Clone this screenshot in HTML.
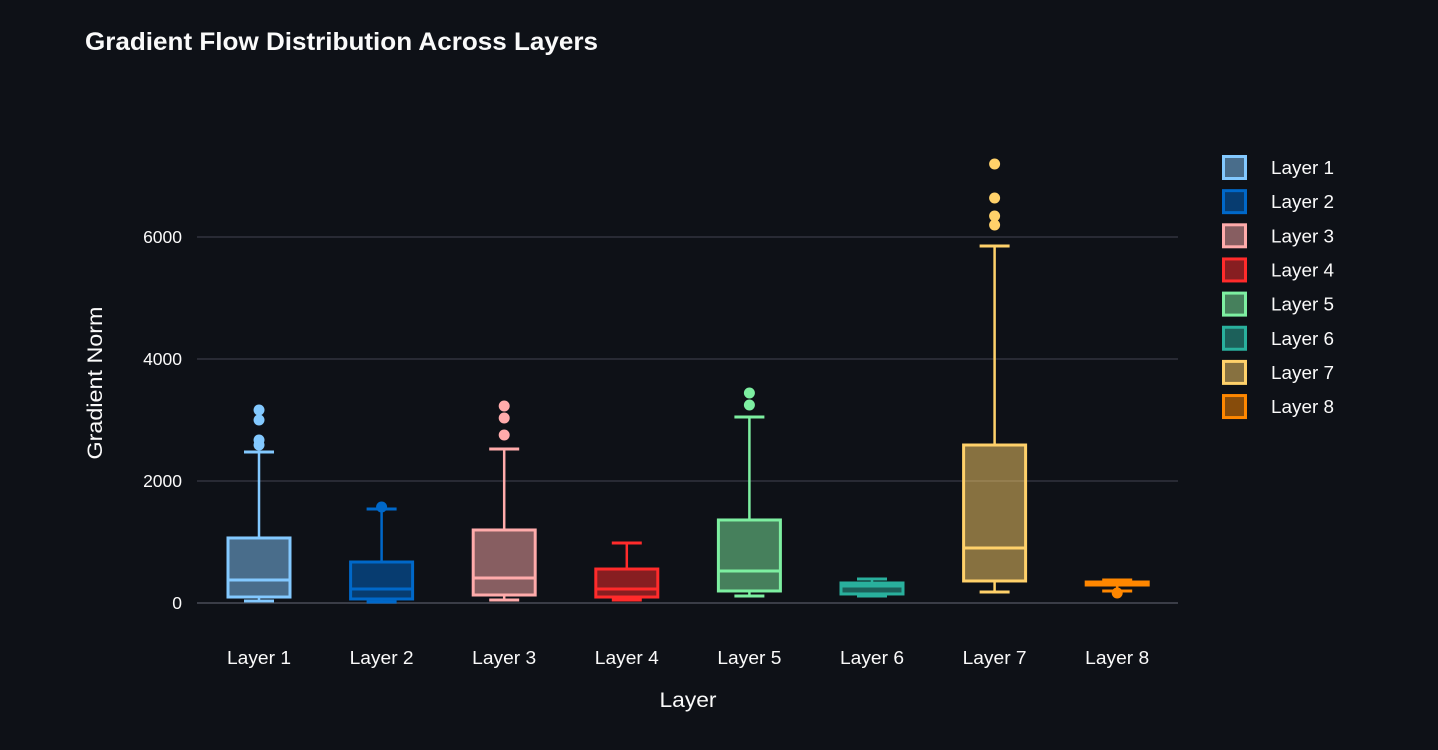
<!DOCTYPE html>
<html><head><meta charset="utf-8"><style>
body{margin:0;background:#0e1117;font-family:"Liberation Sans",sans-serif;}
svg{display:block}
</style></head><body>
<svg id="chart" width="1438" height="750">
<rect width="1438" height="750" fill="#0e1117"/>
<text x="85" y="50" fill="#fafafa" font-size="25" font-weight="bold" textLength="513" lengthAdjust="spacingAndGlyphs">Gradient Flow Distribution Across Layers</text>
<g id="grid"></g><g id="boxes"></g><g id="legend"></g>
<text transform="translate(102,383) rotate(-90)" text-anchor="middle" fill="#fafafa" font-size="21" textLength="153" lengthAdjust="spacingAndGlyphs">Gradient Norm</text>
<text x="688" y="707" text-anchor="middle" fill="#fafafa" font-size="21" textLength="57" lengthAdjust="spacingAndGlyphs">Layer</text>
</svg>
<script>
const categories=["Layer 1","Layer 2","Layer 3","Layer 4","Layer 5","Layer 6","Layer 7","Layer 8"];
const colors=["#83c9ff","#0068c9","#ffabab","#ff2b2b","#7defa1","#29b09d","#ffd16a","#ff8700"];
const lowW=[33,16,49,49,115,115,180,197];
const q1=[98,66,131,98,197,148,361,295];
const med=[377,230,410,230,525,279,902,320];
const q3=[1066,672,1197,557,1361,328,2590,344];
const highW=[2475,1541,2525,984,3049,393,5852,377];
const outliers=[[3164,3000,2672,2590],[1574],[3230,3033,2754],[],[3443,3246],[],[7197,6639,6344,6197],[164]];
const yTicks=[0,2000,4000,6000];
const NS="http://www.w3.org/2000/svg";
const y=v=>603-v*0.061;
const x=i=>259+i*122.6;
function mk(t,a,p){const e=document.createElementNS(NS,t);for(const k in a)e.setAttribute(k,a[k]);p.appendChild(e);return e;}
const grid=document.getElementById('grid');
yTicks.forEach(t=>{
 const l=mk('line',{x1:197,x2:1178,y1:y(t),y2:y(t),stroke:t===0?'#3a3d47':'#31333f','stroke-width':t===0?2:1.5},grid);
 
 
 const tx=mk('text',{x:182,y:y(t)+6,'text-anchor':'end',fill:'#fafafa','font-size':17.5},grid);tx.textContent=t;
 
 
});
const bx=document.getElementById('boxes');
categories.forEach((c,i)=>{
 const g=mk('g',{},bx);
 
 
 const col=colors[i],cx=x(i),hw=31,cw=15;
 mk('line',{x1:cx,x2:cx,y1:y(highW[i]),y2:y(q3[i]),stroke:col,'stroke-width':2.5},g);
 mk('line',{x1:cx,x2:cx,y1:y(q1[i]),y2:y(lowW[i]),stroke:col,'stroke-width':2.5},g);
 mk('line',{x1:cx-cw,x2:cx+cw,y1:y(highW[i]),y2:y(highW[i]),stroke:col,'stroke-width':3},g);
 mk('line',{x1:cx-cw,x2:cx+cw,y1:y(lowW[i]),y2:y(lowW[i]),stroke:col,'stroke-width':3},g);
 mk('rect',{x:cx-hw,y:y(q3[i]),width:2*hw,height:Math.max(1,y(q1[i])-y(q3[i])),fill:col,'fill-opacity':0.5,stroke:col,'stroke-width':3},g);
 mk('line',{x1:cx-hw,x2:cx+hw,y1:y(med[i]),y2:y(med[i]),stroke:col,'stroke-width':3},g);
 outliers[i].forEach(o=>{const d=mk('circle',{cx:cx,cy:y(o),r:5.5,fill:col},g);
  
  });
 const t=mk('text',{x:cx,y:664,'text-anchor':'middle',fill:'#fafafa','font-size':18.5,textLength:64,lengthAdjust:'spacingAndGlyphs'},bx);t.textContent=c;
 
 
});
const lg=document.getElementById('legend');
categories.forEach((c,i)=>{
 const g=mk('g',{},lg);
 
 
 const yy=168+i*34.15;
 mk('rect',{x:1223.5,y:yy-11.5,width:22,height:22,fill:colors[i],'fill-opacity':0.5,stroke:colors[i],'stroke-width':3},g);
 const t=mk('text',{x:1271,y:yy+6,fill:'#fafafa','font-size':18.5,textLength:63,lengthAdjust:'spacingAndGlyphs'},g);t.textContent=c;
});
</script>
</body></html>
